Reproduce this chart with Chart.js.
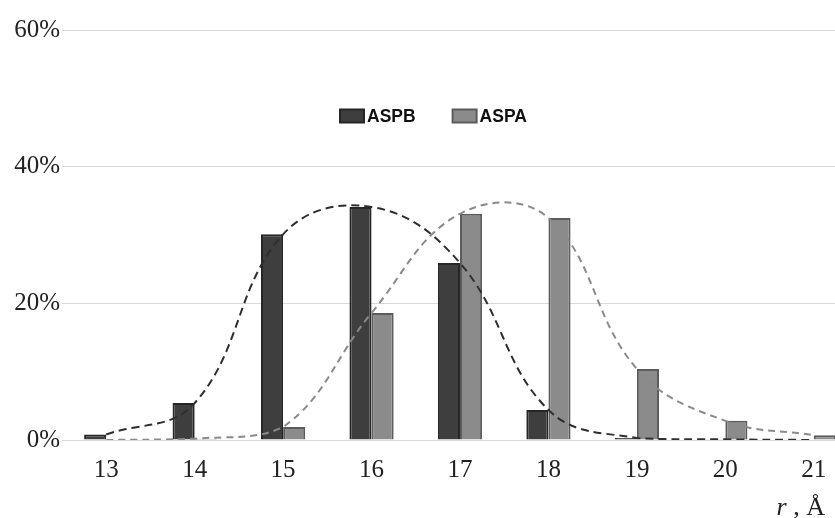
<!DOCTYPE html>
<html><head><meta charset="utf-8">
<script src="https://cdn.jsdelivr.net/npm/chart.js@4"></script>
<style>
html,body{margin:0;padding:0;background:#fff;overflow:hidden;width:835px;height:518px}
#wrap{position:absolute;left:0;top:0;width:860px;height:518px}
</style>
</head><body><div id="wrap"><canvas id="c"></canvas></div>
<script>
const categories = ['13','14','15','16','17','18','19','20','21'];
const aspbValues = [0.8, 5.4, 30.1, 34.1, 25.9, 4.4, 0.3, 0.1, 0];
const aspaValues = [0, 0.2, 1.9, 18.6, 33.1, 32.5, 10.4, 2.8, 0.7];
const seriesNames = ['ASPB', 'ASPA'];
const yTicks = [0, 20, 40, 60];
const axisTitleItalic = 'r';
const axisTitleRest = ' , Å';

const serif = '"Liberation Serif", "Times New Roman", serif';

const legendPlugin = {
  id: 'insideLegend',
  afterDraw(chart) {
    const {ctx, chartArea} = chart;
    const bars = chart.data.datasets.filter(d => d.type === 'bar');
    const y = chartArea.top + 86;
    let x = chartArea.left + 278;
    ctx.save();
    ctx.font = 'bold 17.5px "Liberation Sans", Arial, sans-serif';
    ctx.textBaseline = 'middle';
    ctx.textAlign = 'left';
    bars.forEach(d => {
      ctx.fillStyle = d.backgroundColor;
      ctx.strokeStyle = d.borderColor;
      ctx.lineWidth = 2;
      ctx.fillRect(x, y - 6.5, 24, 13);
      ctx.strokeRect(x, y - 6.5, 24, 13);
      ctx.fillStyle = '#111';
      ctx.fillText(d.label, x + 27, y + 1);
      x += 27 + ctx.measureText(d.label).width + 37;
    });
    ctx.restore();
  }
};

const titlePlugin = {
  id: 'axisTitle',
  afterDraw(chart) {
    const {ctx} = chart;
    ctx.save();
    ctx.fillStyle = '#222';
    ctx.textBaseline = 'alphabetic';
    ctx.textAlign = 'right';
    ctx.font = '26px ' + serif;
    const right = 825, base = 515;
    ctx.fillText(axisTitleRest, right, base);
    const w = ctx.measureText(axisTitleRest).width;
    ctx.font = 'italic 26px ' + serif;
    ctx.fillText(axisTitleItalic, right - w, base);
    ctx.restore();
  }
};

new Chart(document.getElementById('c'), {
  data: {
    labels: categories,
    datasets: [
      { type: 'bar', label: seriesNames[0], data: aspbValues, backgroundColor: '#3e3e3e', borderColor: '#262626', borderWidth: 2, order: 1 },
      { type: 'bar', label: seriesNames[1], data: aspaValues, backgroundColor: '#8b8b8b', borderColor: '#5c5c5c', borderWidth: 2, order: 1 },
      { type: 'line', label: seriesNames[0] + ' fit', data: aspbValues, borderColor: '#2e2e2e', borderWidth: 2, borderDash: [8, 5], pointRadius: 0, tension: 0.4, fill: false, order: 0 },
      { type: 'line', label: seriesNames[1] + ' fit', data: aspaValues, borderColor: '#8a8a8a', borderWidth: 2, borderDash: [7, 5], pointRadius: 0, tension: 0.4, fill: false, order: 0 }
    ]
  },
  options: {
    responsive: true,
    maintainAspectRatio: false,
    animation: false,
    layout: { padding: { top: 30, right: 2, left: 0, bottom: 0 } },
    datasets: { bar: { categoryPercentage: 0.5, barPercentage: 1.0 } },
    plugins: { legend: { display: false }, tooltip: { enabled: false } },
    scales: {
      x: {
        grid: { display: false },
        border: { display: false },
        ticks: { color: '#222', font: { family: serif, size: 25 }, padding: 7, maxRotation: 0 },
        afterFit(scale) { scale.height = 78; }
      },
      y: {
        min: yTicks[0], max: yTicks[yTicks.length - 1],
        afterBuildTicks(scale) { scale.ticks = yTicks.map(v => ({ value: v })); },
        grid: { color: '#d9d9d9', lineWidth: 1, drawTicks: false },
        border: { display: false },
        ticks: { color: '#222', font: { family: serif, size: 25 }, padding: 2, callback: v => v + '%' },
        afterFit(scale) { scale.width = 62; }
      }
    }
  },
  plugins: [legendPlugin, titlePlugin]
});
</script>
</body></html>
